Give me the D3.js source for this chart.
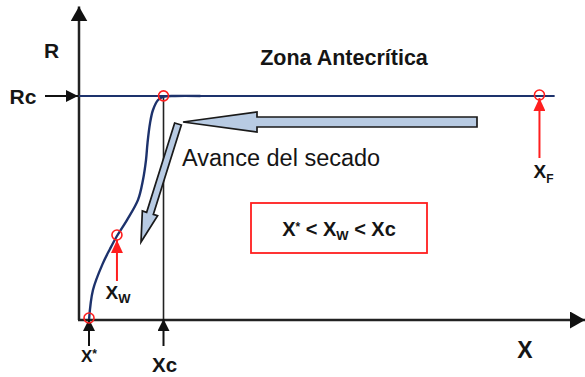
<!DOCTYPE html>
<html>
<head>
<meta charset="utf-8">
<script src="https://cdn.jsdelivr.net/npm/d3@7"></script>
<style>
  html, body { margin: 0; padding: 0; background: #fff; }
  svg { display: block; }
  text { font-family: "Liberation Sans", Arial, sans-serif; fill: #151515; }
</style>
</head>
<body>
<svg id="chart" width="585" height="377"></svg>
<script>
// Drying-rate curve R(X): moisture content X on the horizontal axis, rate R on the vertical.
const curveX = [0.99, 1.38, 2.37, 3.06, 3.75, 4.74, 5.83, 6.32, 6.62, 6.77, 7.02, 7.31, 7.81, 8.30, 9.50, 12.0];
const curveR = [0.00, 0.134, 0.254, 0.317, 0.375, 0.446, 0.536, 0.625, 0.714, 0.79, 0.879, 0.9375, 0.982, 0.996, 1.0, 1.0];

// Critical rate and the end of the constant-rate line
const Rc = 1.0;
const rcLineEnd = 47.0;

// Characteristic moisture contents
const xStar = 0.99;
const xW = 3.75;
const xC = 8.35;
const xF = 45.5;

// Axis extents (data units)
const xDomain = [0, 50];
const yDomain = [0, 1.4];

const svg = d3.select("#chart");
const x = d3.scaleLinear().domain(xDomain).range([79, 585]);
const y = d3.scaleLinear().domain([0, 1]).range([320, 96]);

const navy = "#1d326c";
const red = "#ff1e1e";
const blueFill = "#b8cbe3";

// Arrowhead markers
const defs = svg.append("defs");
function marker(id, color, w, h) {
  defs.append("marker")
    .attr("id", id)
    .attr("viewBox", `0 0 ${w} ${h}`)
    .attr("refX", w).attr("refY", h / 2)
    .attr("markerWidth", w).attr("markerHeight", h)
    .attr("markerUnits", "userSpaceOnUse")
    .attr("orient", "auto")
    .append("path")
    .attr("d", `M0,0 L${w},${h / 2} L0,${h} Z`)
    .attr("fill", color);
}
marker("headAxis", "#111", 15, 17);
marker("headBlack", "#111", 12, 12);
marker("headRed", red, 13, 12);

// Axes
svg.append("line")
  .attr("x1", x(0)).attr("y1", y(0))
  .attr("x2", x(0)).attr("y2", y(yDomain[1]))
  .attr("stroke", "#222").attr("stroke-width", 2.5)
  .attr("marker-end", "url(#headAxis)");
svg.append("line")
  .attr("x1", x(0) - 1).attr("y1", y(0))
  .attr("x2", x(xDomain[1])).attr("y2", y(0))
  .attr("stroke", "#222").attr("stroke-width", 2.5)
  .attr("marker-end", "url(#headAxis)");

// Vertical guide at Xc
svg.append("line")
  .attr("x1", x(xC)).attr("y1", y(Rc))
  .attr("x2", x(xC)).attr("y2", y(0))
  .attr("stroke", "#222").attr("stroke-width", 1.6);

// Constant-rate line at Rc
svg.append("line")
  .attr("x1", x(0)).attr("y1", y(Rc))
  .attr("x2", x(rcLineEnd)).attr("y2", y(Rc))
  .attr("stroke", navy).attr("stroke-width", 2.2);

// Drying curve
const line = d3.line()
  .x((d, i) => x(curveX[i]))
  .y((d, i) => y(curveR[i]))
  .curve(d3.curveCatmullRom.alpha(0.5));
svg.append("path")
  .datum(curveX)
  .attr("d", line)
  .attr("fill", "none")
  .attr("stroke", navy)
  .attr("stroke-width", 2.4);

// Rc pointer on the vertical axis
svg.append("line")
  .attr("x1", 45).attr("y1", y(Rc))
  .attr("x2", x(0) - 1).attr("y2", y(Rc))
  .attr("stroke", "#111").attr("stroke-width", 2)
  .attr("marker-end", "url(#headBlack)");

// Black pointers below the X axis for X* and Xc
[xStar, xC].forEach(v => {
  svg.append("line")
    .attr("x1", x(v)).attr("y1", 346)
    .attr("x2", x(v)).attr("y2", y(0) - 1)
    .attr("stroke", "#111").attr("stroke-width", 2)
    .attr("marker-end", "url(#headBlack)");
});

// Red pointers for Xw and XF
svg.append("line")
  .attr("x1", x(xW)).attr("y1", 281)
  .attr("x2", x(xW)).attr("y2", y(0.375) + 4)
  .attr("stroke", red).attr("stroke-width", 2)
  .attr("marker-end", "url(#headRed)");
svg.append("line")
  .attr("x1", x(xF)).attr("y1", 158)
  .attr("x2", x(xF)).attr("y2", y(Rc) + 2)
  .attr("stroke", red).attr("stroke-width", 2)
  .attr("marker-end", "url(#headRed)");

// Red circles on the curve
const pts = [[xStar, 0.0], [xW, 0.375], [xC, 0.996], [xF, Rc]];
svg.selectAll("circle.pt")
  .data(pts)
  .join("circle")
  .attr("class", "pt")
  .attr("cx", d => x(d[0]))
  .attr("cy", d => y(d[1]) - (d[1] === 0 ? 2 : 1))
  .attr("r", 5)
  .attr("fill", "none")
  .attr("stroke", red)
  .attr("stroke-width", 1.6);

// Block arrows with light-blue fill
function blockArrow(x0, y0, x1, y1, shaftW, headW, headL) {
  const dx = x1 - x0, dy = y1 - y0;
  const L = Math.hypot(dx, dy);
  const ux = dx / L, uy = dy / L;
  const nx = -uy, ny = ux;
  const bx = x1 - ux * headL, by = y1 - uy * headL;
  const p = [
    [x0 + nx * shaftW / 2, y0 + ny * shaftW / 2],
    [bx + nx * shaftW / 2, by + ny * shaftW / 2],
    [bx + nx * headW / 2, by + ny * headW / 2],
    [x1, y1],
    [bx - nx * headW / 2, by - ny * headW / 2],
    [bx - nx * shaftW / 2, by - ny * shaftW / 2],
    [x0 - nx * shaftW / 2, y0 - ny * shaftW / 2]
  ];
  svg.append("path")
    .attr("d", "M" + p.map(q => q.join(",")).join("L") + "Z")
    .attr("fill", blueFill)
    .attr("stroke", "#1a1a1a")
    .attr("stroke-width", 1.7)
    .attr("stroke-linejoin", "miter");
}
blockArrow(477, 122, 183, 122, 10, 20, 74);
blockArrow(178, 124, 141, 242, 7, 16, 30);

// Labels
svg.append("text").attr("x", 51.5).attr("y", 58)
  .attr("text-anchor", "middle").attr("font-weight", "bold").attr("font-size", 21)
  .text("R");
svg.append("text").attr("x", 23).attr("y", 104)
  .attr("text-anchor", "middle").attr("font-weight", "bold").attr("font-size", 21)
  .text("Rc");
svg.append("text").attr("x", 525).attr("y", 358)
  .attr("text-anchor", "middle").attr("font-weight", "bold").attr("font-size", 23)
  .text("X");

svg.append("text").attr("x", 344).attr("y", 65)
  .attr("text-anchor", "middle").attr("font-weight", "bold").attr("font-size", 21.5)
  .text("Zona Antecrítica");

svg.append("text").attr("x", 182).attr("y", 166)
  .attr("font-size", 23.5)
  .text("Avance del secado");

// X* label
const tStar = svg.append("text").attr("x", x(xStar)).attr("y", 362)
  .attr("text-anchor", "middle").attr("font-weight", "bold").attr("font-size", 17);
tStar.append("tspan").text("X");
tStar.append("tspan").attr("font-size", 12).attr("dy", -4).text("*");

// Xc label
svg.append("text").attr("x", x(xC) + 1).attr("y", 372)
  .attr("text-anchor", "middle").attr("font-weight", "bold").attr("font-size", 20.5)
  .text("Xc");

// Xw label
const tW = svg.append("text").attr("x", x(xW) + 1).attr("y", 299)
  .attr("text-anchor", "middle").attr("font-weight", "bold").attr("font-size", 19);
tW.append("tspan").text("X");
tW.append("tspan").attr("font-size", 13).attr("dy", 4).text("W");

// XF label
const tF = svg.append("text").attr("x", x(xF) + 4).attr("y", 178)
  .attr("text-anchor", "middle").attr("font-weight", "bold").attr("font-size", 19);
tF.append("tspan").text("X");
tF.append("tspan").attr("font-size", 12).attr("dy", 5).text("F");

// Inequality box
svg.append("rect")
  .attr("x", 251).attr("y", 203).attr("width", 176).attr("height", 50)
  .attr("fill", "#fff").attr("stroke", red).attr("stroke-width", 1.8);
const tIneq = svg.append("text").attr("x", 339).attr("y", 236)
  .attr("text-anchor", "middle").attr("font-weight", "bold").attr("font-size", 20);
tIneq.append("tspan").text("X");
tIneq.append("tspan").attr("font-size", 12).attr("dy", -5).text("*");
tIneq.append("tspan").attr("dy", 5).text(" < X");
tIneq.append("tspan").attr("font-size", 13).attr("dy", 4).text("W");
tIneq.append("tspan").attr("dy", -4).text(" < Xc");
</script>
</body>
</html>
